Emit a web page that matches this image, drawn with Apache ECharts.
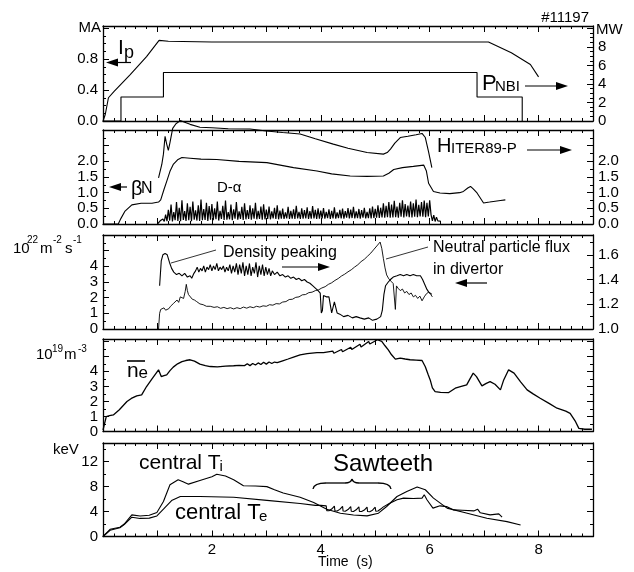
<!DOCTYPE html>
<html>
<head>
<meta charset="utf-8">
<script src="https://cdn.jsdelivr.net/npm/echarts@6/dist/echarts.min.js"></script>
<style>
  html, body { margin: 0; background: #fff; }
  #chart { width: 634px; height: 572px; }
</style>
</head>
<body>
<div id="chart"></div>
<script>
// ---- data (time in s) ----
// panel 1: plasma current (MA, left) and NBI power (MW, right)
const ip = [[0,0],[0.04,0.08],[0.1,0.3],[0.2,0.38],[0.5,0.6],[0.8,0.83],[1.03,1.04],[1.2,1.03],[2,1.02],[4,1.02],[6,1.02],[7.08,1.02],[7.5,0.88],[7.85,0.73],[8.0,0.57]]
const pnbi = [[0,0],[0.33,0],[0.33,2.6],[1.11,2.6],[1.11,5.25],[6.87,5.25],[6.87,2.6],[7.7,2.6],[7.7,0]]

// panel 2: H-factor, beta_N, D-alpha
const hIter = [[1.02,1.47],[1.08,1.9],[1.11,2.23],[1.14,2.8],[1.17,2.55],[1.2,2.35],[1.23,2.6],[1.28,3.05],[1.34,3.2],[1.42,3.3],[1.5,3.25],[1.6,3.18],[1.78,3.09],[2.0,3.07],[2.3,3.04],[2.7,3.03],[3.0,2.97],[3.3,2.92],[3.62,2.87],[3.9,2.72],[4.23,2.55],[4.5,2.42],[4.85,2.28],[5.15,2.23],[5.22,2.28],[5.28,2.39],[5.36,2.58],[5.46,2.76],[5.6,2.8],[5.75,2.85],[5.86,2.89],[5.92,2.76],[5.98,2.3],[6.04,1.8]]
const betaN = [[0,0],[0.28,0],[0.33,0.18],[0.4,0.4],[0.53,0.61],[0.7,0.66],[0.9,0.66],[1.02,0.7],[1.06,0.77],[1.12,1.1],[1.17,1.36],[1.23,1.68],[1.29,1.9],[1.37,2.05],[1.45,2.12],[1.6,2.1],[1.8,2.07],[2.09,2.06],[2.5,2.0],[3.01,1.96],[3.5,1.8],[3.93,1.69],[4.2,1.6],[4.54,1.53],[4.85,1.52],[5.15,1.53],[5.25,1.62],[5.34,1.74],[5.5,1.8],[5.7,1.84],[5.89,1.88],[5.94,1.69],[5.98,1.3],[6.07,1.04],[6.19,0.99],[6.37,0.97],[6.55,1.0],[6.62,1.04],[6.7,1.15],[6.75,1.2],[6.8,1.12],[6.87,0.99],[6.99,0.67],[7.1,0.7],[7.17,0.72],[7.3,0.75],[7.39,0.77]]
// D-alpha sampled every 25 ms from 1.0 s
const dalphaStart = 1.0
const dalphaStep = 0.025
const dalpha = [
  0.00,0.04,0.10,0.06,0.16,0.08,
  0.30,0.09,0.45,0.11,0.62,0.08,0.38,0.12,0.70,0.10,0.52,0.09,0.76,0.13,0.41,0.10,0.66,0.12,0.55,0.09,0.72,0.14,0.44,0.11,0.60,0.10,0.78,0.12,0.48,0.13,0.68,0.10,0.57,0.14,
  0.64,0.12,0.50,0.15,0.72,0.11,0.42,0.16,0.58,0.13,0.75,0.14,0.38,0.15,0.62,0.12,0.47,0.17,0.70,0.14,0.40,0.16,0.55,0.13,0.66,0.15,0.44,0.16,0.60,0.14,0.50,0.17,0.68,0.15,0.42,0.16,0.56,0.14,0.63,0.15,
  0.46,0.16,0.56,0.15,0.40,0.18,0.52,0.16,0.60,0.15,0.43,0.17,0.49,0.16,0.37,0.18,0.55,0.16,0.42,0.17,0.47,0.16,0.58,0.18,0.39,0.16,0.50,0.17,0.44,0.18,0.53,0.16,0.41,0.17,0.57,0.18,0.45,0.16,0.50,0.17,
  0.43,0.18,0.51,0.17,0.39,0.19,0.47,0.16,0.42,0.18,0.53,0.17,0.37,0.19,0.45,0.18,0.49,0.17,0.41,0.20,0.51,0.18,0.46,0.19,0.55,0.18,0.40,0.19,0.48,0.17,0.44,0.20,0.52,0.18,0.39,0.19,0.50,0.18,0.56,0.19,
  0.48,0.20,0.60,0.19,0.52,0.21,0.66,0.20,0.58,0.22,0.70,0.20,0.62,0.21,0.74,0.22,0.56,0.20,0.68,0.23,0.76,0.21,0.64,0.24,0.59,0.22,0.72,0.21,0.66,0.23,0.78,0.22,0.61,0.24,0.70,0.23,0.75,0.22,0.68,0.24,
  0.76,0.30,0.10,0.28,0.08,0.22,0.10,0.15,0.09
]

// panel 3: neutral particle flux (left, 1e22 m-2 s-1) and density peaking (right)
const neutralFlux = [[1.02,0],[1.04,1.0],[1.06,1.25],[1.09,1.15],[1.12,1.35],[1.15,1.2],[1.18,1.1],[1.21,1.3],[1.24,1.45],[1.27,1.35],[1.3,1.65],[1.33,1.55],[1.36,1.85],[1.39,1.7],[1.42,2.05],[1.45,2.15],[1.48,1.95],[1.51,2.4],[1.53,2.85],[1.55,2.45],[1.57,2.2],[1.6,2.1],[1.64,1.9],[1.68,1.85],[1.72,1.75],[1.78,1.6],[1.84,1.55],[1.9,1.45],[1.97,1.45],[2.04,1.38],[2.1,1.42],[2.16,1.32],[2.22,1.38],[2.28,1.3],[2.34,1.36],[2.4,1.28],[2.46,1.36],[2.52,1.3],[2.58,1.4],[2.64,1.33],[2.7,1.42],[2.76,1.36],[2.82,1.45],[2.88,1.4],[2.94,1.48],[3.0,1.45],[3.06,1.55],[3.12,1.52],[3.18,1.62],[3.24,1.6],[3.3,1.72],[3.36,1.75],[3.42,1.88],[3.48,1.9],[3.54,2.02],[3.6,2.05],[3.66,2.18],[3.72,2.2],[3.78,2.32],[3.84,2.35],[3.9,2.45],[3.96,2.5],[4.02,2.62],[4.08,2.7],[4.14,2.85],[4.2,2.95],[4.26,3.1],[4.32,3.22],[4.38,3.38],[4.44,3.5],[4.5,3.65],[4.56,3.78],[4.62,3.95],[4.68,4.1],[4.74,4.3],[4.8,4.45],[4.86,4.65],[4.92,4.85],[4.98,5.1],[5.03,5.3],[5.06,5.35],[5.09,5.55],[5.12,5.15],[5.15,4.5],[5.18,3.9],[5.21,3.45],[5.25,3.2],[5.29,3.05],[5.33,2.9],[5.35,2.8],[5.37,1.25],[5.39,2.75],[5.42,2.6],[5.46,2.45],[5.5,2.55],[5.54,2.3],[5.58,2.4],[5.62,2.2],[5.66,2.3],[5.7,2.05],[5.74,2.15],[5.78,1.95],[5.82,2.1],[5.86,1.8],[5.9,2.05],[5.94,2.25],[5.98,2.35],[6.02,2.2],[6.05,2.05]]
const densityPeaking = [[1.04,1.35],[1.07,1.55],[1.1,1.6],[1.14,1.61],[1.18,1.6],[1.22,1.54],[1.26,1.49],[1.3,1.46],[1.35,1.44],[1.4,1.45],[1.45,1.43],[1.5,1.45],[1.55,1.42],[1.6,1.43],[1.63,1.41],[1.67,1.45],[1.7,1.47],[1.73,1.5],[1.76,1.46],[1.79,1.49],[1.82,1.47],[1.85,1.51],[1.88,1.46],[1.91,1.5],[1.94,1.48],[1.97,1.52],[2.0,1.47],[2.03,1.51],[2.06,1.48],[2.09,1.53],[2.12,1.47],[2.15,1.5],[2.18,1.48],[2.21,1.51],[2.24,1.46],[2.27,1.5],[2.3,1.47],[2.33,1.52],[2.36,1.45],[2.39,1.51],[2.42,1.46],[2.45,1.53],[2.48,1.44],[2.51,1.52],[2.54,1.45],[2.57,1.54],[2.6,1.43],[2.63,1.51],[2.66,1.44],[2.69,1.53],[2.72,1.43],[2.75,1.5],[2.78,1.45],[2.81,1.54],[2.84,1.42],[2.87,1.51],[2.9,1.44],[2.93,1.52],[2.96,1.43],[2.99,1.5],[3.02,1.44],[3.05,1.49],[3.08,1.43],[3.11,1.47],[3.15,1.44],[3.2,1.46],[3.25,1.43],[3.3,1.44],[3.35,1.42],[3.4,1.43],[3.45,1.41],[3.5,1.42],[3.55,1.4],[3.6,1.41],[3.65,1.39],[3.7,1.4],[3.75,1.38],[3.8,1.37],[3.85,1.35],[3.9,1.33],[3.95,1.31],[3.99,1.29],[4.01,1.13],[4.03,1.15],[4.05,1.27],[4.1,1.26],[4.15,1.26],[4.18,1.25],[4.2,1.13],[4.22,1.14],[4.25,1.22],[4.28,1.21],[4.3,1.13],[4.35,1.12],[4.42,1.1],[4.5,1.11],[4.58,1.09],[4.65,1.1],[4.72,1.09],[4.8,1.08],[4.88,1.09],[4.95,1.07],[5.03,1.08],[5.1,1.1],[5.13,1.15],[5.16,1.28],[5.19,1.35],[5.24,1.38],[5.28,1.4],[5.33,1.42],[5.4,1.43],[5.46,1.44],[5.52,1.43],[5.58,1.44],[5.64,1.43],[5.7,1.44],[5.76,1.43],[5.83,1.43],[5.87,1.4],[5.91,1.36],[5.95,1.32],[5.98,1.3],[6.01,1.29],[6.04,1.28]]

// panel 4: line-averaged density (1e19 m-3)
const neBar = [[0,0.1],[0.06,0.99],[0.12,1.05],[0.19,1.1],[0.3,1.45],[0.44,1.99],[0.52,2.2],[0.62,2.37],[0.71,2.43],[0.8,2.99],[0.9,3.5],[1.02,4.1],[1.07,3.65],[1.12,3.72],[1.17,3.77],[1.23,4.05],[1.29,4.28],[1.37,4.5],[1.45,4.65],[1.52,4.72],[1.6,4.77],[1.68,4.68],[1.78,4.48],[1.88,4.38],[1.97,4.32],[2.1,4.3],[2.25,4.34],[2.4,4.37],[2.5,4.4],[2.6,4.38],[2.65,4.5],[2.7,4.38],[2.75,4.52],[2.8,4.42],[2.85,4.56],[2.9,4.45],[2.95,4.6],[3.0,4.48],[3.05,4.62],[3.1,4.52],[3.15,4.62],[3.2,4.58],[3.3,4.7],[3.4,4.82],[3.5,4.95],[3.62,5.1],[3.75,5.18],[3.93,5.25],[4.05,5.25],[4.08,5.12],[4.22,5.35],[4.24,5.2],[4.38,5.45],[4.4,5.3],[4.55,5.6],[4.57,5.45],[4.72,5.8],[4.74,5.62],[4.88,5.98],[4.9,5.82],[5.04,6.1],[5.06,6.15],[5.12,5.99],[5.18,5.7],[5.24,5.43],[5.3,5.1],[5.37,4.81],[5.46,4.88],[5.55,4.82],[5.64,4.77],[5.75,4.75],[5.86,4.72],[5.92,4.3],[5.97,3.8],[6.01,3.43],[6.05,2.9],[6.1,2.65],[6.2,2.6],[6.35,2.59],[6.47,2.88],[6.58,3.0],[6.68,3.1],[6.74,3.5],[6.8,3.88],[6.86,3.65],[6.96,3.03],[7.04,3.2],[7.11,3.32],[7.2,3.14],[7.3,2.77],[7.36,3.43],[7.45,4.1],[7.55,3.88],[7.67,3.3],[7.79,2.77],[7.9,2.5],[8.03,2.21],[8.2,1.85],[8.34,1.55],[8.5,1.35],[8.58,1.21],[8.68,0.65],[8.74,0.21],[8.85,0.15],[8.98,0.15]]

// panel 5: central temperatures (keV)
const ti = [[0,0],[0.13,1.16],[0.31,1.48],[0.39,2.0],[0.53,3.47],[0.68,3.3],[0.85,3.4],[0.99,3.84],[1.11,5.61],[1.23,8.3],[1.38,9.1],[1.47,8.8],[1.57,8.4],[1.78,9.0],[2.0,9.6],[2.09,10.0],[2.25,9.7],[2.4,9.1],[2.58,8.15],[2.8,8.1],[3.01,8.0],[3.15,7.5],[3.31,6.97],[3.62,6.3],[3.87,5.45],[4.11,4.38],[4.36,3.74],[4.6,3.45],[4.85,3.31],[5.06,3.74],[5.21,4.81],[5.4,6.42],[5.58,7.23],[5.77,7.94],[5.92,7.5],[6.07,6.16],[6.32,4.55],[6.69,3.74],[7.05,2.93],[7.42,2.39],[7.67,1.85]]
const te = [[0,0],[0.13,1.0],[0.31,1.4],[0.39,1.9],[0.53,3.1],[0.68,2.9],[0.85,2.95],[0.99,3.3],[1.11,4.38],[1.26,5.77],[1.42,6.42],[1.78,6.42],[2.4,6.3],[3.01,5.8],[3.62,5.3],[3.9,5.0],[4.0,5.0],[4.1,4.92],
  [4.11,4.15],[4.15,4.12],[4.2,4.4],[4.25,4.88],
  [4.26,4.12],[4.3,4.08],[4.35,4.35],[4.4,4.85],
  [4.41,4.08],[4.45,4.05],[4.5,4.32],[4.55,4.8],
  [4.56,4.05],[4.6,4.02],[4.65,4.28],[4.7,4.76],
  [4.71,4.02],[4.75,4.0],[4.8,4.25],[4.85,4.72],
  [4.86,4.0],[4.9,3.98],[4.95,4.22],[5.0,4.7],
  [5.01,4.05],[5.05,4.1],[5.1,4.4],[5.15,4.75],
  [5.25,5.24],[5.4,5.89],[5.52,6.16],[5.7,6.1],[5.86,6.16],[5.9,6.69],[5.95,5.89],[6.06,4.55],[6.19,4.92],[6.31,4.8],[6.44,4.27],[6.6,4.2],[6.81,4.11],[6.88,4.38],[6.93,3.8],[7.11,3.47],[7.27,3.63],[7.33,3.1]]

const timeTicks = [2, 4, 6, 8]

// ---- layout ----
const FONT = '"Liberation Sans", Arial, sans-serif'
const panels = [
  { top: 26, height: 95 },
  { top: 130, height: 94 },
  { top: 235, height: 94 },
  { top: 339, height: 92.5 },
  { top: 443, height: 93.5 },
]
const LEFT = 103, RIGHT = 41

const black = { color: '#000', width: 1.3 }

function makeXAxes(i) {
  const base = {
    gridIndex: i, type: 'value', min: 0, max: 9, interval: 1,
    axisLine: { onZero: false, lineStyle: black },
    axisTick: { inside: true, length: 6, lineStyle: { color: '#000' } },
    minorTick: { show: true, splitNumber: 5, length: 3, lineStyle: { color: '#000' } },
    splitLine: { show: false },
  }
  return [
    { ...base, position: 'bottom',
      axisLabel: { show: i === 4, color: '#000', fontSize: 15, fontFamily: FONT, margin: 6,
        formatter: (v) => timeTicks.includes(v) ? String(v) : '' } },
    { ...base, position: 'top', axisLabel: { show: false } },
  ]
}

function makeYAxis(i, pos, min, max, interval, labelMax, digits, minorSplit) {
  return {
    gridIndex: i, type: 'value', position: pos, min, max, interval,
    axisLine: { onZero: false, lineStyle: black },
    axisTick: { inside: true, length: 6, lineStyle: { color: '#000' } },
    minorTick: { show: true, splitNumber: minorSplit, length: 3, lineStyle: { color: '#000' } },
    splitLine: { show: false },
    axisLabel: {
      show: labelMax !== null, color: '#000', fontSize: 15, fontFamily: FONT, margin: 5,
      showMaxLabel: false,
      formatter: (v) => (labelMax !== null && v <= labelMax + 1e-9) ? v.toFixed(digits) : '',
    },
  }
}

const grids = panels.map(p => ({ left: LEFT, right: RIGHT, top: p.top, height: p.height }))
const xAxes = [0, 1, 2, 3, 4].flatMap(makeXAxes)
const yAxes = [
  makeYAxis(0, 'left', 0, 1.226, 0.4, 0.8, 1, 4), makeYAxis(0, 'right', 0, 10.27, 2, 8, 0, 4),
  makeYAxis(1, 'left', 0, 3, 0.5, 2.0, 1, 2), makeYAxis(1, 'right', 0, 3, 0.5, 2.0, 1, 2),
  makeYAxis(2, 'left', 0, 6, 1, 4, 0, 2), makeYAxis(2, 'right', 1.0, 1.76, 0.2, 1.6, 1, 2),
  makeYAxis(3, 'left', 0, 6.15, 1, 4, 0, 2), makeYAxis(3, 'right', 0, 6.15, 1, null, 0, 2),
  makeYAxis(4, 'left', 0, 15, 4, 12, 0, 2), makeYAxis(4, 'right', 0, 15, 4, null, 0, 2),
]

function line(data, grid, right, width, clip) {
  return {
    type: 'line', data, xAxisIndex: grid * 2, yAxisIndex: grid * 2 + (right ? 1 : 0),
    showSymbol: false, symbol: 'none', clip: clip !== false, silent: true,
    lineStyle: { color: '#000', width: width || 1.1 },
  }
}

const dalphaData = dalpha.map((v, k) => [+(dalphaStart + k * dalphaStep).toFixed(3), v])

const series = [
  line(ip, 0, false), line(pnbi, 0, true),
  line(hIter, 1, true, 1.1, false), line(betaN, 1, false), line(dalphaData, 1, false, 1.2),
  line(neutralFlux, 2, false, 0.9), line(densityPeaking, 2, true, 1.1),
  line(neBar, 3, false, 1.3, false),
  line(ti, 4, false), line(te, 4, false),
]

// ---- annotations ----
function txt(x, y, text, size, align) {
  return { type: 'text', x, y, silent: true,
    style: { text, fill: '#000', font: `${size}px ${FONT}`, align: align || 'left', verticalAlign: 'middle' } }
}
function seg(x1, y1, x2, y2, w) {
  return { type: 'line', silent: true, shape: { x1, y1, x2, y2 }, style: { stroke: '#000', lineWidth: w || 1 } }
}
function arrow(xFrom, xTo, y) {
  const d = xTo > xFrom ? 1 : -1
  return [
    seg(xFrom, y, xTo - d * 8, y, 1.2),
    { type: 'polygon', silent: true, shape: { points: [[xTo, y], [xTo - d * 12, y - 4], [xTo - d * 12, y + 4]] }, style: { fill: '#000' } },
  ]
}
function curve(x1, y1, cx, cy, x2, y2) {
  return { type: 'bezierCurve', silent: true, shape: { x1, y1, x2, y2, cpx1: cx, cpy1: cy }, style: { stroke: '#000', lineWidth: 1.3, fill: null } }
}

const graphic = [
  txt(589, 18, '#11197', 15, 'right'),
  txt(101, 28, 'MA', 15, 'right'),
  txt(596, 30, 'MW', 15),
  txt(118, 48, 'I', 21), txt(124, 53, 'p', 18),
  ...arrow(131, 106, 62.5),
  txt(482, 84, 'P', 22), txt(495, 87, 'NBI', 15),
  ...arrow(525, 568, 86),
  txt(437, 146, 'H', 20), txt(451, 148.5, 'ITER89-P', 15),
  ...arrow(527, 572, 150),
  ...arrow(127, 109, 187),
  txt(131, 189, '\u03b2', 20), txt(141, 188.5, 'N', 16),
  txt(217, 188, 'D-\u03b1', 15),
  txt(13, 249, '10', 15), txt(27, 240, '22', 10), txt(40, 249, 'm', 15), txt(53, 240, '-2', 10), txt(65, 249, 's', 15), txt(73, 240, '-1', 10),
  txt(223, 253, 'Density peaking', 16),
  seg(216, 250, 171, 263, 0.8),
  ...arrow(282, 330, 267),
  txt(433, 248, 'Neutral particle flux', 16),
  txt(433, 270, 'in divertor', 16),
  seg(428, 247, 386, 259, 0.8),
  ...arrow(487, 455, 283),
  txt(36, 355, '10', 15), txt(52, 349, '19', 10), txt(64, 355, 'm', 15), txt(78, 349, '-3', 10),
  txt(127, 371, 'n', 21), txt(138.5, 373, 'e', 17), seg(127, 361, 145, 361, 1.6),
  txt(53, 450, 'keV', 15),
  txt(139, 463, 'central T', 21), txt(219.5, 467, 'i', 15),
  txt(175, 513, 'central T', 22), txt(259, 517, 'e', 15),
  txt(333, 464, 'Sawteeth', 24),
  curve(313, 489, 314, 483, 326, 483), seg(326, 483, 345, 483, 1.3), curve(345, 483, 351, 483, 352, 479),
  curve(352, 479, 353, 483, 359, 483), seg(359, 483, 378, 483, 1.3), curve(378, 483, 390, 483, 391, 489),
  txt(318, 562, 'Time  (s)', 14),
]

const chart = echarts.init(document.getElementById('chart'))
chart.setOption({
  animation: false,
  backgroundColor: '#fff',
  textStyle: { fontFamily: FONT },
  grid: grids,
  xAxis: xAxes,
  yAxis: yAxes,
  series,
  graphic,
})
</script>
</body>
</html>
